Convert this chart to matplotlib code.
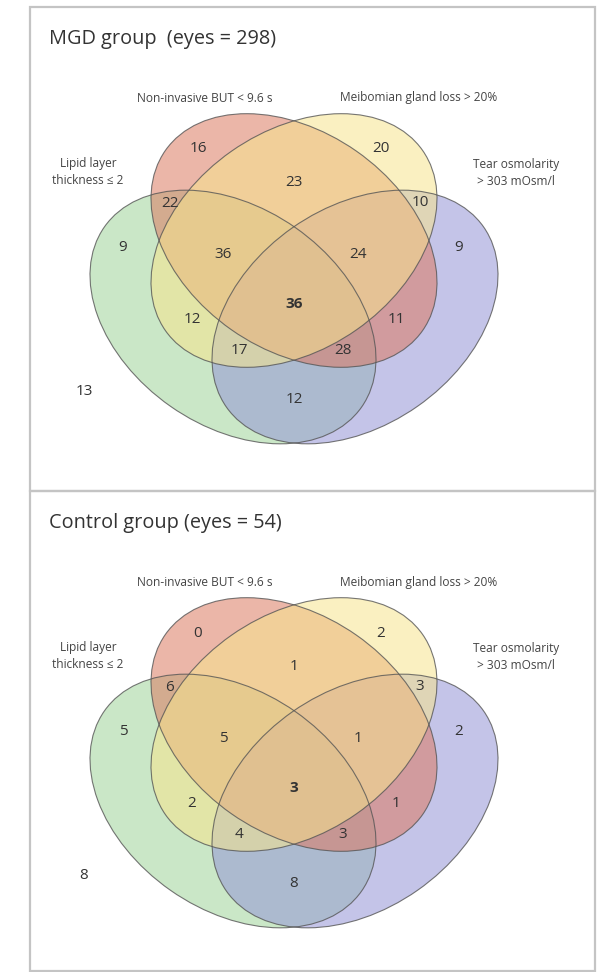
import matplotlib
matplotlib.use('Agg')
import matplotlib.pyplot as plt
from matplotlib.patches import Ellipse, Rectangle

plt.rcParams['font.family'] = ['Open Sans', 'DejaVu Sans']

# data
titles = ['MGD group  (eyes = 298)', 'Control group (eyes = 54)']
set_names = ['Lipid layer\nthickness \u2264 2', 'Non-invasive BUT < 9.6 s',
             'Meibomian gland loss > 20%', 'Tear osmolarity\n> 303 mOsm/l']
# A = lipid, B = NIBUT, C = meibomian, D = osmolarity
regions = ['B', 'C', 'BC', 'AB', 'CD', 'A', 'ABC', 'BCD', 'D',
           'ABCD', 'AC', 'BD', 'ACD', 'ABD', 'AD', 'none']
mgd_counts = [16, 20, 23, 22, 10, 9, 36, 24, 9, 36, 12, 11, 17, 28, 12, 13]
control_counts = [0, 2, 1, 6, 3, 5, 5, 1, 2, 3, 2, 1, 4, 3, 8, 8]

# layout (pixels, y measured from panel top)
panel_top = [7, 491]
panel_h = [484, 480]
label_pos = {'B': (198, 142), 'C': (381, 142), 'BC': (294, 175),
             'AB': (170, 196), 'CD': (420, 195), 'A': (123, 240),
             'ABC': (223, 247), 'BCD': (358, 247), 'D': (459, 240),
             'ABCD': (294, 297), 'AC': (192, 312), 'BD': (396, 312),
             'ACD': (239, 343), 'ABD': (343, 343), 'AD': (294, 392),
             'none': (84, 384)}
# ellipses in drawing order: centre x, centre y, angle, face colour
ellipses = [(233, 310, 35, '#9fd49a'),   # A green
            (355, 310, -35, '#9595d6'),  # D purple
            (294, 233.5, 35, '#dc7a62'),  # B red
            (294, 233.5, -35, '#f6e48e')] # C yellow
ell_w, ell_h = 314, 218

fig = plt.figure(figsize=(6.04, 9.72), dpi=100)
ax = fig.add_axes([0, 0, 1, 1])
ax.set_xlim(0, 604)
ax.set_ylim(972, 0)
ax.axis('off')

for p in range(2):
    y0 = panel_top[p]
    counts = mgd_counts if p == 0 else control_counts
    ax.add_patch(Rectangle((30, y0), 565, panel_h[p], fill=False,
                           edgecolor='#c4c4c4', lw=1.6))
    ax.text(49, y0 + 32, titles[p], fontsize=14.3, color='#333333',
            ha='left', va='center')
    for cx, cy, ang, col in ellipses:
        ax.add_patch(Ellipse((cx, y0 + cy), ell_w, ell_h, angle=ang,
                             facecolor=col, alpha=0.55, edgecolor='none'))
    for cx, cy, ang, col in ellipses:
        ax.add_patch(Ellipse((cx, y0 + cy), ell_w, ell_h, angle=ang,
                             facecolor='none', edgecolor='#555555', lw=0.8, alpha=0.8))
    ax.text(205, y0 + 91, set_names[1], fontsize=8.6, color='#444444', ha='center', va='center')
    ax.text(419, y0 + 91, set_names[2], fontsize=8.6, color='#444444', ha='center', va='center')
    ax.text(88, y0 + 165, set_names[0], fontsize=8.6, color='#444444', ha='center', va='center',
            linespacing=1.4)
    ax.text(516, y0 + 166, set_names[3], fontsize=8.6, color='#444444', ha='center', va='center',
            linespacing=1.4)
    for key, n in zip(regions, counts):
        x, y = label_pos[key]
        ax.text(x, y0 + y, str(n), fontsize=11, color='#333333', ha='center', va='center',
                fontweight='bold' if key == 'ABCD' else 'normal')

fig.savefig('out.png', dpi=100)
